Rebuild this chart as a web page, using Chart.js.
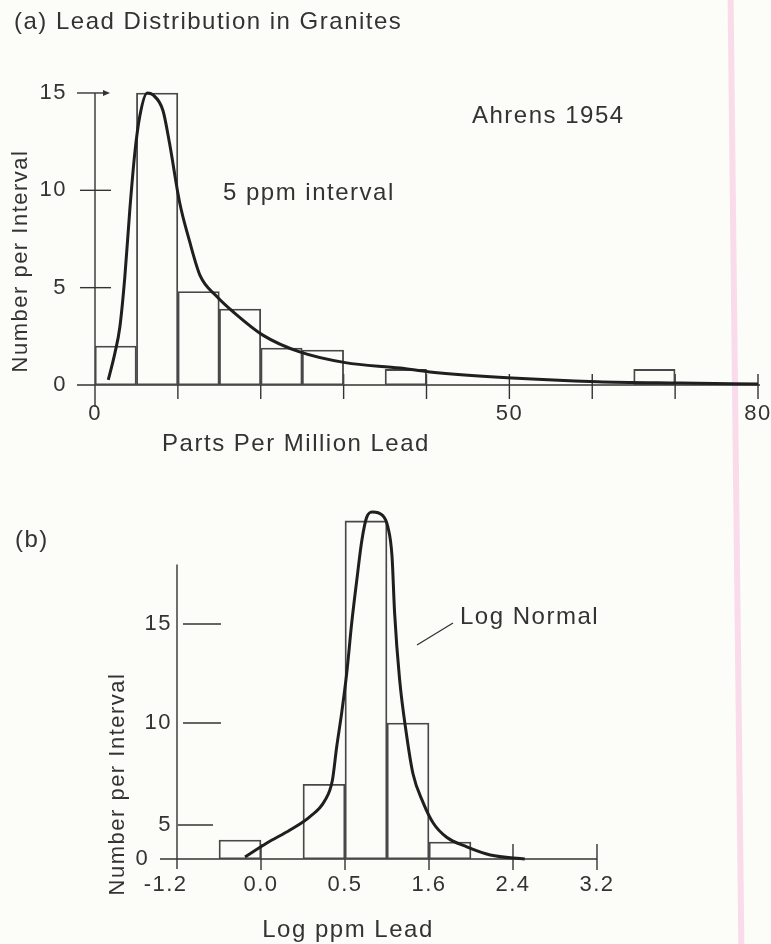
<!DOCTYPE html>
<html>
<head>
<meta charset="utf-8">
<script src="https://cdn.jsdelivr.net/npm/chart.js@4.4.1/dist/chart.umd.min.js"></script>
<style>
html,body{margin:0;padding:0;background:#fcfcf8;}
body{width:771px;height:944px;position:relative;overflow:hidden;}
#edge{position:absolute;left:733px;top:-20px;width:6px;height:990px;background:#f9dbe9;transform:rotate(-0.65deg);}
canvas{position:absolute;left:0;}
#ca{top:0;}
#cb{top:470px;}
</style>
</head>
<body>
<div id="edge"></div>
<canvas id="ca" width="771" height="470"></canvas>
<canvas id="cb" width="771" height="474"></canvas>
<script>
// ---------- Panel (a): Lead distribution in granites, 5 ppm bins ----------
const ppmBinStarts = [0, 5, 10, 15, 20, 25, 30, 35, 40, 45, 50, 55, 60, 65, 70, 75];
const ppmCounts    = [2, 15, 4.8, 3.9, 1.9, 1.8, null, 0.8, null, null, null, null, null, 0.8, null, null];
const ppmCurveX = [1.6, 2.4, 3.0, 3.6, 4.2, 4.8, 5.4, 6.3, 7.0, 8.2, 9.0, 10.2, 11.4, 12.7, 14.7, 16.7, 20.3, 24.7, 30.2, 36.8, 40.4, 50.3, 60.6, 70.6, 80];
const ppmCurveY = [0.26, 1.64, 2.98, 5.55, 9.0, 11.9, 13.8, 15.0, 14.9, 14.1, 12.4, 9.4, 7.4, 5.6, 4.55, 3.75, 2.55, 1.7, 1.15, 0.87, 0.67, 0.36, 0.17, 0.10, 0.05];
const ppmTicks = [0, 10, 20, 30, 40, 50, 60, 70, 80];
const ppmTickLabels = ['0', '', '', '', '', '50', '', '', '80'];
const countTicksA = [0, 5, 10, 15];

// ---------- Panel (b): Log ppm lead ----------
const logTickLabels = ['-1.2', '0.0', '0.5', '1.6', '2.4', '3.2'];
const logBinStarts = [0.5, 1.0, 1.5, 2.0, 2.5, 3.0];   // in tick-interval units
const logCounts    = [2.8, null, 7.0, 20.2, 10, 2.5];
const logCurveX = [0.81, 1.07, 1.35, 1.58, 1.76, 1.85, 1.90, 1.96, 2.02, 2.08, 2.14, 2.20, 2.26, 2.33, 2.44, 2.51, 2.56, 2.59, 2.65, 2.73, 2.81, 2.93, 3.05, 3.21, 3.45, 3.73, 4.14];
const logCurveY = [0.3, 2.35, 4.3, 5.4, 6.2, 7.2, 8.8, 10.5, 12.5, 15.05, 17.2, 19.2, 20.4, 20.65, 20.5, 19.9, 18.4, 15.6, 12.2, 9.5, 7.5, 6.1, 5.1, 3.2, 1.8, 0.6, 0];
const countTicksB = [0, 5, 10, 15];

// ---------- Texts ----------
const titleA = '(a) Lead Distribution in Granites';
const sourceNote = 'Ahrens 1954';
const intervalNote = '5 ppm interval';
const xTitleA = 'Parts Per Million Lead';
const yTitle = 'Number per Interval';
const titleB = '(b)';
const curveNote = 'Log Normal';
const xTitleB = 'Log ppm Lead';

// ---------- Style ----------
const INK = '#333333';
const CURVE = '#1f1f1f';
const FONT = '"Liberation Sans", Arial, Helvetica, sans-serif';
Chart.defaults.font.family = FONT;
Chart.defaults.color = INK;

// axis of panel (b) is drawn non-uniformly in the original (0-5 compressed)
const logCountAxisWarp = [[0, 0], [5, 0.096], [10, 0.384], [15, 0.664], [21, 1]];

class PiecewiseLinearScale extends Chart.LinearScale {
  static id = 'piecewiseLinear';
  _toFrac(v) {
    const w = logCountAxisWarp;
    for (let i = 1; i < w.length; i++) {
      if (v <= w[i][0] || i === w.length - 1) {
        const a = w[i - 1], b = w[i];
        return a[1] + (v - a[0]) * (b[1] - a[1]) / (b[0] - a[0]);
      }
    }
  }
  _fromFrac(f) {
    const w = logCountAxisWarp;
    for (let i = 1; i < w.length; i++) {
      if (f <= w[i][1] || i === w.length - 1) {
        const a = w[i - 1], b = w[i];
        return a[0] + (f - a[1]) * (b[0] - a[0]) / (b[1] - a[1]);
      }
    }
  }
  getPixelForValue(value) {
    return value === null || value === undefined ? NaN : this.getPixelForDecimal(this._toFrac(value));
  }
  getValueForPixel(pixel) {
    return this._fromFrac(this.getDecimalForPixel(pixel));
  }
}
Chart.register(PiecewiseLinearScale);

const spacing = {
  id: 'spacing',
  beforeDraw(chart) { chart.ctx.letterSpacing = '1.5px'; }
};

function seg(ctx, x1, y1, x2, y2) {
  ctx.beginPath(); ctx.moveTo(x1, y1); ctx.lineTo(x2, y2); ctx.stroke();
}
function txt(ctx, s, x, y, align, size, rot) {
  ctx.save();
  ctx.font = size + 'px ' + FONT;
  ctx.fillStyle = INK;
  ctx.textAlign = align;
  ctx.textBaseline = 'middle';
  ctx.translate(x, y);
  if (rot) ctx.rotate(rot);
  ctx.fillText(s, 0, 0);
  ctx.restore();
}
const noPad = s => { s.paddingLeft = 0; s.paddingRight = 0; };

// ---------- Chart (a) ----------
const axesA = {
  id: 'axesA',
  beforeDatasetsDraw(chart) {
    const {ctx, scales: {x, y}} = chart;
    const x0 = x.getPixelForValue(0), y0 = y.getPixelForValue(0);
    ctx.save();
    ctx.strokeStyle = INK; ctx.fillStyle = INK; ctx.lineWidth = 1.4;
    seg(ctx, x0 - 18, y0, x.getPixelForValue(80) + 2, y0);
    const top = y.getPixelForValue(15);
    seg(ctx, x0, top, x0, y0 + 22);
    ppmTicks.slice(1).forEach(v => {
      const px = x.getPixelForValue(v);
      seg(ctx, px, y0 - 11, px, y0 + 14);
    });
    [5, 10].forEach(v => {
      const py = y.getPixelForValue(v);
      seg(ctx, x0 - 15, py, x0 + 16, py);
    });
    seg(ctx, x0 - 18, top, x0 + 10, top);
    ctx.beginPath(); ctx.moveTo(x0 + 15, top); ctx.lineTo(x0 + 8, top - 3); ctx.lineTo(x0 + 8, top + 3); ctx.closePath(); ctx.fill();
    ctx.restore();
  },
  afterDraw(chart) {
    const {ctx} = chart;
    txt(ctx, sourceNote, 472, 116, 'left', 24);
    txt(ctx, intervalNote, 223, 193, 'left', 24);
    txt(ctx, xTitleA, 296, 444, 'center', 24);
    txt(ctx, yTitle, 21, 261, 'center', 22, -Math.PI / 2);
  }
};

new Chart(document.getElementById('ca'), {
  type: 'bar',
  data: {
    datasets: [
      {
        type: 'line',
        label: 'Fitted curve',
        data: ppmCurveX.map((v, i) => ({x: v, y: ppmCurveY[i]})),
        borderColor: CURVE, borderWidth: 3, pointRadius: 0,
        cubicInterpolationMode: 'monotone', clip: false, order: 0
      },
      {
        type: 'bar',
        label: 'Number per interval',
        data: ppmBinStarts.map((v, i) => ({x: v + 2.5, y: ppmCounts[i]})),
        backgroundColor: 'rgba(0,0,0,0)', borderColor: '#484848', borderWidth: 1.2,
        borderSkipped: false, barPercentage: 1, categoryPercentage: 1, order: 1
      }
    ]
  },
  options: {
    responsive: false, animation: false, devicePixelRatio: 1, events: [],
    layout: {padding: {left: 14, right: 13, top: 0, bottom: 0}},
    plugins: {
      legend: {display: false}, tooltip: {enabled: false},
      title: {display: true, text: titleA, align: 'start', color: INK,
              font: {size: 24, weight: 'normal'}, padding: {top: 8, bottom: 48.4}}
    },
    scales: {
      x: {
        type: 'linear', min: 0, max: 80, offset: false,
        grid: {display: false, drawTicks: false}, border: {display: false},
        afterBuildTicks: s => { s.ticks = ppmTicks.map(v => ({value: v})); },
        ticks: {autoSkip: false, maxRotation: 0, padding: 16, font: {size: 22},
                callback: (v, i) => ppmTickLabels[i]},
        afterFit: s => { s.height = 85; noPad(s); }
      },
      y: {
        type: 'linear', min: 0, max: 15.4,
        grid: {display: false, drawTicks: false}, border: {display: false},
        afterBuildTicks: s => { s.ticks = countTicksA.map(v => ({value: v})); },
        ticks: {padding: 28, font: {size: 22}, callback: v => String(v)},
        afterFit: s => { s.width = 81; s.paddingTop = 0; s.paddingBottom = 0; }
      }
    }
  },
  plugins: [spacing, axesA]
});

// ---------- Chart (b) ----------
const axesB = {
  id: 'axesB',
  beforeDatasetsDraw(chart) {
    const {ctx, scales: {x, y}} = chart;
    const x0 = x.getPixelForValue(0), y0 = y.getPixelForValue(0);
    ctx.save();
    ctx.strokeStyle = INK; ctx.lineWidth = 1.4;
    seg(ctx, x0 - 17, y0, x.getPixelForValue(5), y0);
    seg(ctx, x0, y.getPixelForValue(18), x0, y0 + 10);
    [1, 2, 3, 4, 5].forEach(v => {
      const px = x.getPixelForValue(v);
      seg(ctx, px, y0 - 15, px, y0 + 11);
    });
    const p5 = y.getPixelForValue(5);
    seg(ctx, x0 + 1, p5, x0 + 36, p5);
    [10, 15].forEach(v => {
      const py = y.getPixelForValue(v);
      seg(ctx, x0 + 6, py, x0 + 44, py);
    });
    ctx.restore();
  },
  afterDraw(chart) {
    const {ctx} = chart;
    txt(ctx, titleB, 15, 70, 'left', 24);
    txt(ctx, curveNote, 460, 147, 'left', 24);
    ctx.save(); ctx.strokeStyle = INK; ctx.lineWidth = 1.3;
    seg(ctx, 417, 175, 453, 153);
    ctx.restore();
    txt(ctx, xTitleB, 348, 460, 'center', 24);
    txt(ctx, yTitle, 118, 314, 'center', 22, -Math.PI / 2);
  }
};

new Chart(document.getElementById('cb'), {
  type: 'bar',
  data: {
    datasets: [
      {
        type: 'line',
        label: 'Log Normal',
        data: logCurveX.map((v, i) => ({x: v, y: logCurveY[i]})),
        borderColor: CURVE, borderWidth: 3, pointRadius: 0,
        cubicInterpolationMode: 'monotone', clip: false, order: 0
      },
      {
        type: 'bar',
        label: 'Number per interval',
        data: logBinStarts.map((v, i) => ({x: v + 0.25, y: logCounts[i]})),
        backgroundColor: 'rgba(0,0,0,0)', borderColor: '#484848', borderWidth: 1.2,
        borderSkipped: false, barPercentage: 1, categoryPercentage: 1, order: 1
      }
    ]
  },
  options: {
    responsive: false, animation: false, devicePixelRatio: 1, events: [],
    layout: {padding: {left: 0, right: 174, top: 35, bottom: 0}},
    plugins: {legend: {display: false}, tooltip: {enabled: false}, title: {display: false}},
    scales: {
      x: {
        type: 'linear', min: 0, max: 5, offset: false,
        grid: {display: false, drawTicks: false}, border: {display: false},
        afterBuildTicks: s => { s.ticks = logTickLabels.map((t, i) => ({value: i})); },
        ticks: {autoSkip: false, maxRotation: 0, padding: 13, font: {size: 22},
                callback: (v, i) => (i === 0 ? logTickLabels[i] + '   ' : logTickLabels[i])},
        afterFit: s => { s.height = 85; noPad(s); }
      },
      y: {
        type: 'piecewiseLinear', min: 0, max: 21,
        grid: {display: false, drawTicks: false}, border: {display: false},
        afterBuildTicks: s => { s.ticks = countTicksB.map(v => ({value: v})); },
        ticks: {padding: 5, font: {size: 22}, callback: v => (v === 0 ? '0   ' : String(v))},
        afterFit: s => { s.width = 177; s.paddingTop = 0; s.paddingBottom = 0; }
      }
    }
  },
  plugins: [spacing, axesB]
});
</script>
</body>
</html>
